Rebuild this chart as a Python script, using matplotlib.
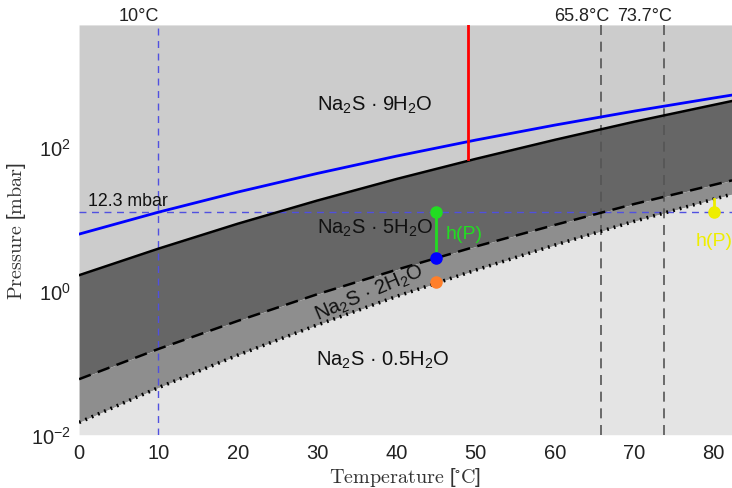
import numpy as np
import matplotlib
matplotlib.use("Agg")
import matplotlib.pyplot as plt

plt.rcParams['font.family'] = ['Liberation Sans', 'DejaVu Sans']
plt.rcParams['mathtext.fontset'] = 'custom'
plt.rcParams['mathtext.rm'] = 'Liberation Sans'
plt.rcParams['mathtext.it'] = 'Liberation Sans:italic'
plt.rcParams['mathtext.default'] = 'regular'

# ---- data ----
temp = [0, 10, 20, 30, 40, 50, 60, 70, 80, 82.3]
p_water = [6.1, 12.3, 23.4, 42.4, 73.8, 123.4, 199.4, 311.8, 473.7, 520]   # blue solid
p_9_5 = [1.64, 3.83, 8.5, 17.8, 35.5, 67.6, 124.5, 222, 380, 430]          # black solid
p_5_2 = [0.059, 0.155, 0.38, 0.89, 1.95, 4.1, 8.2, 16, 29.5, 34]           # black dashed
p_2_05 = [0.0148, 0.045, 0.127, 0.333, 0.83, 1.93, 4.3, 9.2, 18.6, 21.9]   # black dotted

vline_temps = [65.8, 73.7]
vline_labels = ['65.8°C', '73.7°C']
cold_temp = 10
cold_label = '10°C'
p_ref = 12.3
p_ref_label = '12.3 mbar'

red_x = 49
red_bottom = 67

green_x = 45
green_top = 12.3
blue_dot = 2.8
orange_dot = 1.3

yellow_x = 80
yellow_dot = 12.3
yellow_top = 18.6

xlim = (0, 82.3)
ylim = (1e-2, 4900)

# ---- figure ----
fig = plt.figure(figsize=(7.32, 4.89), dpi=100)
ax = fig.add_axes([0.108, 0.109, 0.892, 0.838])
ax.set_yscale('log')
ax.set_xlim(*xlim)
ax.set_ylim(*ylim)

c_top = '#cccccc'
c_dark = '#666666'
c_mid = '#8e8e8e'
c_bot = '#e4e4e4'

ax.fill_between(temp, p_9_5, ylim[1], color=c_top, lw=0, zorder=0)
ax.fill_between(temp, p_5_2, p_9_5, color=c_dark, lw=0, zorder=0)
ax.fill_between(temp, p_2_05, p_5_2, color=c_mid, lw=0, zorder=0)
ax.fill_between(temp, ylim[0], p_2_05, color=c_bot, lw=0, zorder=0)

ax.plot(temp, p_water, color='#0000ff', lw=2, zorder=3)
ax.plot(temp, p_9_5, color='black', lw=1.8, zorder=3)
ax.plot(temp, p_5_2, color='black', lw=1.8, ls=(0, (5, 3)), zorder=3)
ax.plot(temp, p_2_05, color='black', lw=2.6, ls=(0, (0.5, 1.4)), zorder=3)

# reference lines
ax.axvline(cold_temp, color='#5050e0', lw=1, ls=(0, (5, 4)), zorder=2)
ax.axhline(p_ref, color='#5050e0', lw=1, ls=(0, (5, 4)), zorder=2)
for vt in vline_temps:
    ax.axvline(vt, color='#555555', lw=1.2, ls=(0, (6, 4)), zorder=2)

# red line
ax.plot([red_x, red_x], [red_bottom, ylim[1]], color='#ff0000', lw=2, zorder=4)

# green h(P)
ax.plot([green_x, green_x], [blue_dot, green_top], color='#22dd22', lw=2, zorder=4)
ax.plot([green_x], [green_top], 'o', color='#22dd22', ms=8, zorder=5)
ax.plot([green_x], [blue_dot], 'o', color='#0000ff', ms=8, zorder=5)
ax.plot([green_x], [orange_dot], 'o', color='#ff7f2a', ms=8, zorder=5)
ax.text(46.2, 6.3, 'h(P)', color='#22dd22', fontsize=14, va='center', ha='left', zorder=6)

# yellow h(P)
ax.plot([yellow_x, yellow_x], [yellow_dot, yellow_top], color='#eeee00', lw=2, zorder=4)
ax.plot([yellow_x], [yellow_dot], 'o', color='#eeee00', ms=8, zorder=5)
ax.text(yellow_x, 4.9, 'h(P)', color='#eeee00', fontsize=14, va='center', ha='center', zorder=6)

# phase labels
fs = 14.5
ax.text(37.3, 390, 'Na$_2$S · 9H$_2$O', fontsize=fs, ha='center', va='center', color='#111111')
ax.text(37.3, 7.6, 'Na$_2$S · 5H$_2$O', fontsize=fs, ha='center', va='center', color='#111111')
ax.text(36.6, 0.95, 'Na$_2$S · 2H$_2$O', fontsize=fs, ha='center', va='center', rotation=23,
        color='#111111')
ax.text(38.3, 0.11, 'Na$_2$S · 0.5H$_2$O', fontsize=fs, ha='center', va='center', color='#111111')

ax.text(1.1, p_ref * 1.12, p_ref_label, fontsize=12.8, ha='left', va='bottom', color='#111111')

trans = ax.get_xaxis_transform()
ax.text(7.55, 1.003, cold_label, fontsize=13, ha='center', va='bottom', transform=trans, color='#222222')
ax.text(63.35, 1.003, vline_labels[0], fontsize=13, ha='center', va='bottom', transform=trans, color='#222222')
ax.text(71.3, 1.003, vline_labels[1], fontsize=13, ha='center', va='bottom', transform=trans, color='#222222')

# axes styling
for s in ax.spines.values():
    s.set_visible(False)
ax.set_xticks([0, 10, 20, 30, 40, 50, 60, 70, 80])
ax.set_yticks([1e-2, 1, 1e2])
ax.yaxis.set_minor_locator(matplotlib.ticker.NullLocator())
ax.tick_params(axis='both', length=0, labelsize=14.5, colors='#222222', pad=6)
ax.set_xlabel(r'$\mathrm{Temperature}\ [^{\circ}\mathrm{C}]$', fontsize=14.5, math_fontfamily='cm',
              color='#333333', labelpad=2)
ax.set_ylabel(r'$\mathrm{Pressure}\ [\mathrm{mbar}]$', fontsize=14.5, math_fontfamily='cm',
              color='#333333', labelpad=2)

fig.savefig('out.png', dpi=100)
